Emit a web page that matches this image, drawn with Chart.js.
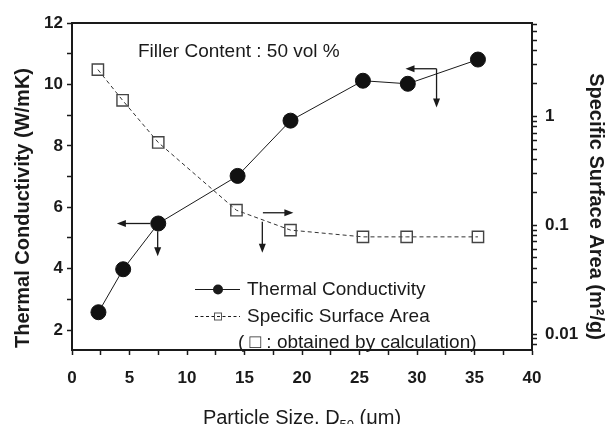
<!DOCTYPE html>
<html>
<head>
<meta charset="utf-8">
<script src="https://cdn.jsdelivr.net/npm/chart.js@4.4.1/dist/chart.umd.min.js"></script>
<style>
  html, body { margin: 0; padding: 0; background: #fff; }
  #wrap { width: 611px; height: 424px; position: relative; }
</style>
</head>
<body>
<div id="wrap"><canvas id="c" width="611" height="424"></canvas></div>
<script>
// ---- data ----
const particleSizeTC = [2.3, 4.45, 7.5, 14.4, 19.0, 25.3, 29.2, 35.3];
const thermalConductivity = [2.58, 3.98, 5.47, 7.02, 8.82, 10.12, 10.02, 10.81];
const particleSizeSSA = [2.25, 4.4, 7.5, 14.3, 19.0, 25.3, 29.1, 35.3];
const specificSurfaceArea = [2.68, 1.40, 0.574, 0.137, 0.090, 0.078, 0.078, 0.078];

const xTickLabels = [0, 5, 10, 15, 20, 25, 30, 35, 40];
const leftTickLabels = [2, 4, 6, 8, 10, 12];
const rightTickLabels = [0.01, 0.1, 1];

// arrows in data units [x1, y1(left axis), x2, y2(left axis)]
const arrows = [
  [6.8, 5.47, 3.9, 5.47],
  [7.45, 5.22, 7.45, 4.40],
  [16.6, 5.82, 19.25, 5.82],
  [16.55, 5.53, 16.55, 4.52],
  [31.7, 10.51, 29.0, 10.51],
  [31.7, 10.51, 31.7, 9.25]
];

const xTitle = ['Particle Size, D', '50', ' (\u03bcm)'];
const leftTitle = 'Thermal Conductivity (W/mK)';
const rightTitle = 'Specific Surface Area (m\u00b2/g)';
const annotationText = 'Filler Content : 50 vol %';
const legendLabels = ['Thermal Conductivity', 'Specific Surface Area', '( \u25a1 : obtained by calculation)'];

const FONT = '"Liberation Sans", Arial, Helvetica, sans-serif';
const INK = '#1a1a1a';

const tcPoints = particleSizeTC.map((x, i) => ({ x, y: thermalConductivity[i] }));
const ssaPoints = particleSizeSSA.map((x, i) => ({ x, y: specificSurfaceArea[i] }));

function drawArrow(ctx, x1, y1, x2, y2) {
  const ang = Math.atan2(y2 - y1, x2 - x1);
  const L = 9, W = 3.5;
  ctx.beginPath();
  ctx.moveTo(x1, y1);
  ctx.lineTo(x2 - L * 0.6 * Math.cos(ang), y2 - L * 0.6 * Math.sin(ang));
  ctx.stroke();
  ctx.beginPath();
  ctx.moveTo(x2, y2);
  ctx.lineTo(x2 - L * Math.cos(ang) + W * Math.sin(ang), y2 - L * Math.sin(ang) - W * Math.cos(ang));
  ctx.lineTo(x2 - L * Math.cos(ang) - W * Math.sin(ang), y2 - L * Math.sin(ang) + W * Math.cos(ang));
  ctx.closePath();
  ctx.fill();
}

const decor = {
  id: 'decor',
  afterDraw(chart) {
    const { ctx, chartArea: a, scales } = chart;
    const sx = scales.x, sy = scales.y;
    ctx.save();
    // top frame line
    ctx.strokeStyle = INK; ctx.lineWidth = 2;
    ctx.beginPath(); ctx.moveTo(a.left - 1, a.top); ctx.lineTo(a.right + 1, a.top); ctx.stroke();

    // arrows
    ctx.lineWidth = 1.3; ctx.strokeStyle = INK; ctx.fillStyle = INK;
    arrows.forEach(([x1, y1, x2, y2]) => {
      drawArrow(ctx, sx.getPixelForValue(x1), sy.getPixelForValue(y1),
                     sx.getPixelForValue(x2), sy.getPixelForValue(y2));
    });

    // annotation text
    ctx.fillStyle = INK;
    ctx.font = '19px ' + FONT;
    ctx.textAlign = 'left'; ctx.textBaseline = 'alphabetic';
    ctx.fillText(annotationText, 138, 56.5);

    // legend
    const lx0 = 195, lx1 = 240, lmid = 218, tx = 247;
    const rows = [289.5, 316.5, 343];
    ctx.lineWidth = 1; ctx.strokeStyle = INK;
    ctx.beginPath(); ctx.moveTo(lx0, rows[0]); ctx.lineTo(lx1, rows[0]); ctx.stroke();
    ctx.beginPath(); ctx.arc(lmid, rows[0], 5, 0, Math.PI * 2); ctx.fill();
    ctx.setLineDash([3, 2.5]);
    ctx.beginPath(); ctx.moveTo(lx0, rows[1]); ctx.lineTo(lx1, rows[1]); ctx.stroke();
    ctx.setLineDash([]);
    ctx.strokeStyle = '#555';
    ctx.strokeRect(lmid - 3.5, rows[1] - 3.5, 7, 7);
    ctx.fillStyle = INK;
    ctx.font = '19px ' + FONT;
    ctx.textBaseline = 'middle';
    ctx.fillText(legendLabels[0], tx, rows[0]);
    ctx.fillText(legendLabels[1], tx, rows[1]);
    ctx.fillText(legendLabels[2], 238, rows[2]);

    // left title
    ctx.font = 'bold 20px ' + FONT;
    ctx.textAlign = 'center'; ctx.textBaseline = 'middle';
    ctx.save(); ctx.translate(23, 208); ctx.rotate(-Math.PI / 2);
    ctx.fillText(leftTitle, 0, 0); ctx.restore();
    // right title
    ctx.save(); ctx.translate(596, 206.5); ctx.rotate(Math.PI / 2);
    ctx.fillText(rightTitle, 0, 0); ctx.restore();

    // x title with subscript
    ctx.textAlign = 'left'; ctx.textBaseline = 'alphabetic';
    const big = '20px ' + FONT, small = '13px ' + FONT;
    ctx.font = big; const w0 = ctx.measureText(xTitle[0]).width; const w2 = ctx.measureText(xTitle[2]).width;
    ctx.font = small; const w1 = ctx.measureText(xTitle[1]).width;
    const total = w0 + w1 + w2;
    let cx = (a.left + a.right) / 2 - total / 2;
    const base = 424;
    ctx.font = big; ctx.fillText(xTitle[0], cx, base); cx += w0;
    ctx.font = small; ctx.fillText(xTitle[1], cx, base + 5); cx += w1;
    ctx.font = big; ctx.fillText(xTitle[2], cx, base);
    ctx.restore();
  }
};

const tickFont = { family: FONT, size: 17, weight: 'bold' };
const gridCommon = { display: true, drawOnChartArea: false, drawTicks: true, tickLength: 5, tickWidth: 1.5, tickColor: INK };
const borderCommon = { display: true, width: 2, color: INK };

new Chart(document.getElementById('c'), {
  type: 'line',
  data: {
    datasets: [
      {
        label: legendLabels[0],
        data: tcPoints,
        yAxisID: 'y',
        borderColor: INK, borderWidth: 1,
        pointStyle: 'circle', pointRadius: 7.5,
        pointBackgroundColor: '#111', pointBorderColor: '#111', pointBorderWidth: 1,
        tension: 0, fill: false
      },
      {
        label: legendLabels[1],
        data: ssaPoints,
        yAxisID: 'y2',
        borderColor: '#333', borderWidth: 1, borderDash: [4, 3],
        pointStyle: 'rect', pointRadius: 8,
        pointBackgroundColor: 'rgba(0,0,0,0)', pointBorderColor: '#444', pointBorderWidth: 1.4,
        tension: 0, fill: false
      }
    ]
  },
  options: {
    responsive: false,
    animation: false,
    events: [],
    layout: { padding: { top: 23, left: 0, right: 0, bottom: 0 } },
    plugins: { legend: { display: false }, tooltip: { enabled: false }, title: { display: false } },
    scales: {
      x: {
        type: 'linear', position: 'bottom', min: 0, max: 40,
        afterBuildTicks: s => { const t = []; for (let v = 0; v <= 40; v += 2.5) t.push({ value: v }); s.ticks = t; },
        afterFit: s => { s.height = 74; },
        ticks: { autoSkip: false, maxRotation: 0, font: tickFont, color: INK, padding: 13,
                 callback: v => xTickLabels.includes(v) ? String(v) : '' },
        grid: gridCommon, border: borderCommon
      },
      y: {
        type: 'linear', position: 'left', min: 1.35, max: 12,
        afterBuildTicks: s => { const t = []; for (let v = 2; v <= 12; v++) t.push({ value: v }); s.ticks = t; },
        afterFit: s => { s.width = 72; },
        ticks: { autoSkip: false, font: tickFont, color: INK, padding: 4,
                 callback: v => leftTickLabels.includes(v) ? String(v) : '' },
        grid: gridCommon, border: borderCommon
      },
      y2: {
        type: 'logarithmic', position: 'right', min: 0.00713, max: 7.18,
        afterBuildTicks: s => {
          const t = [];
          for (let e = -3; e <= 0; e++) for (let k = 1; k <= 9; k++) {
            const v = Number((k * Math.pow(10, e)).toPrecision(3));
            if (v >= s.min && v <= s.max) t.push({ value: v });
          }
          s.ticks = t;
        },
        afterFit: s => { s.width = 79; },
        ticks: { autoSkip: false, font: tickFont, color: INK, padding: 8,
                 callback: v => { const m = rightTickLabels.find(r => Math.abs(r - v) < r * 1e-6); return m !== undefined ? String(m) : ''; } },
        grid: gridCommon, border: borderCommon
      }
    }
  },
  plugins: [decor]
});
</script>
</body>
</html>
